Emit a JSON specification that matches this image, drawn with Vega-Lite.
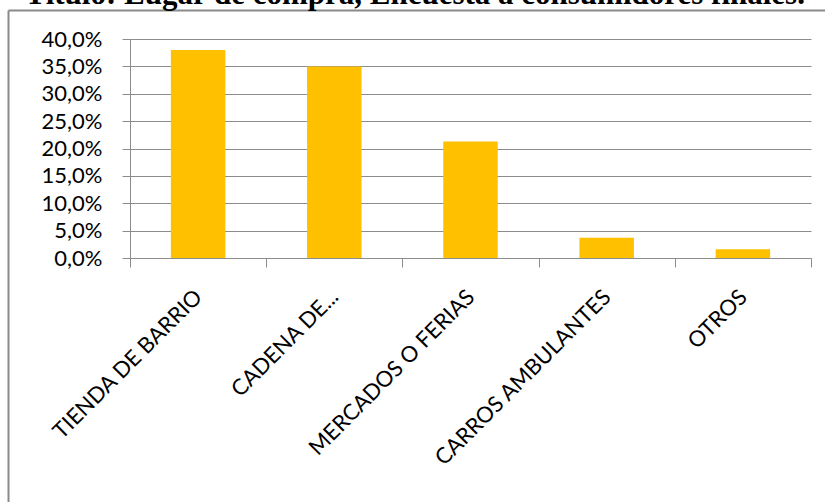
{
  "$schema": "https://vega.github.io/schema/vega-lite/v6.json",
  "width": 681,
  "height": 219,
  "autosize": "none",
  "padding": {"left": 130, "top": 39, "right": 14, "bottom": 244},
  "background": "white",
  "title": {
    "text": "Título: Lugar de compra, Encuesta a consumidores finales.",
    "font": "Liberation Serif",
    "fontSize": 31,
    "fontWeight": "bold",
    "color": "black",
    "anchor": "start",
    "frame": "group",
    "orient": "top",
    "baseline": "alphabetic",
    "offset": -25,
    "dx": -105
  },
  "data": {
    "values": [
      {"lugar": "TIENDA DE BARRIO", "pct": 0.380},
      {"lugar": "CADENA DE...", "pct": 0.350},
      {"lugar": "MERCADOS O FERIAS", "pct": 0.213},
      {"lugar": "CARROS AMBULANTES", "pct": 0.037},
      {"lugar": "OTROS", "pct": 0.016}
    ]
  },
  "layer": [
    {
      "mark": {"type": "bar", "color": "#FFC000", "width": {"band": 0.4}},
      "encoding": {
        "x": {
          "field": "lugar",
          "type": "nominal",
          "sort": null,
          "title": null,
          "scale": {"paddingInner": 0, "paddingOuter": 0},
          "axis": {
            "orient": "bottom",
            "tickBand": "extent",
            "labelAngle": -45,
            "labelAlign": "right",
            "labelBaseline": "middle",
            "labelFont": "Lato",
            "labelFontSize": 22,
            "labelColor": "black",
            "labelPadding": 26,
            "tickSize": 9,
            "tickColor": "#8c8c8c",
            "domainColor": "#8c8c8c",
            "labelLimit": 0
          }
        },
        "y": {
          "field": "pct",
          "type": "quantitative",
          "title": null,
          "scale": {"domain": [0, 0.4], "nice": false},
          "axis": {
            "orient": "left",
            "values": [0, 0.05, 0.1, 0.15, 0.2, 0.25, 0.3, 0.35, 0.4],
            "format": ".1%",
            "labelFont": "Lato",
            "labelFontSize": 22,
            "labelColor": "black",
            "labelPadding": 20,
            "tickSize": 8,
            "tickColor": "#8c8c8c",
            "domainColor": "#8c8c8c",
            "gridColor": "#8c8c8c",
            "gridOpacity": 1
          }
        }
      }
    },
    {
      "mark": {"type": "point", "opacity": 0},
      "encoding": {
        "x": {
          "field": "pct",
          "type": "quantitative",
          "title": null,
          "scale": {"domain": [0, 1], "range": [-122, 700], "nice": false, "zero": false},
          "axis": {
            "orient": "top",
            "offset": 29,
            "labels": false,
            "ticks": false,
            "grid": false,
            "domainColor": "#8a8a8a",
            "domainWidth": 2
          }
        },
        "y": {
          "field": "pct",
          "type": "quantitative",
          "title": null,
          "scale": {"domain": [0, 1], "range": [470, -29], "nice": false, "zero": false},
          "axis": {
            "orient": "right",
            "offset": -803,
            "labels": false,
            "ticks": false,
            "grid": false,
            "domainColor": "#8a8a8a",
            "domainWidth": 2
          }
        }
      }
    }
  ],
  "resolve": {"scale": {"x": "independent", "y": "independent"}, "axis": {"x": "independent", "y": "independent"}},
  "config": {
    "view": {"stroke": null},
    "locale": {
      "number": {"decimal": ",", "thousands": ".", "grouping": [3], "currency": ["$", ""]}
    }
  }
}
